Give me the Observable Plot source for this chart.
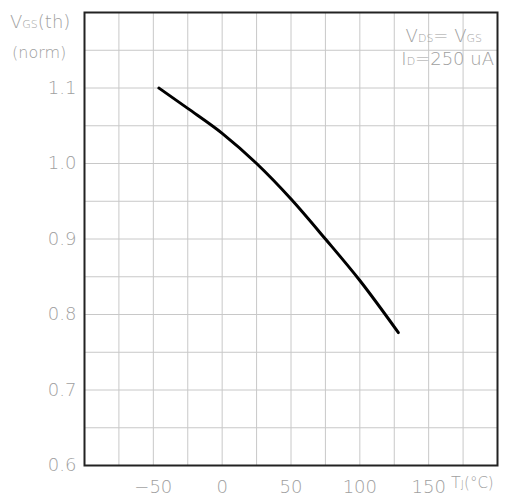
<!DOCTYPE html>
<html><head>
<meta charset="utf-8">
<script src="https://cdn.jsdelivr.net/npm/d3@7"></script>
<script src="https://cdn.jsdelivr.net/npm/@observablehq/plot@0.6"></script>
<style>body{margin:0;background:#fff}</style>
</head><body><div id="chart"></div>
<script>
// Normalized gate threshold voltage vs junction temperature
const tj  = [-46, -25, 0, 25, 50, 75, 100, 128];
const vgs = [1.100, 1.073, 1.040, 1.000, 0.953, 0.900, 0.845, 0.776];
const xTicks = [-50, 0, 50, 100, 150];
const yTicks = [0.6, 0.7, 0.8, 0.9, 1.0, 1.1];
const xGrid = [-75, -50, -25, 0, 25, 50, 75, 100, 125, 150, 175];
const yGrid = [0.65, 0.7, 0.75, 0.8, 0.85, 0.9, 0.95, 1.0, 1.05, 1.1, 1.15];

const data = tj.map((t, i) => ({t, v: vgs[i]}));
const txt = "#a0a0a0";
const font = "DejaVu Sans";

const svg = Plot.plot({
  width: 508, height: 500,
  marginLeft: 84, marginTop: 12, marginRight: 11, marginBottom: 35,
  x: {domain: [-100, 200], label: null},
  y: {domain: [0.6, 1.2], label: null},
  style: {fontFamily: font, fontSize: "18px", color: txt, background: "white"},
  marks: [
    Plot.gridX(xGrid, {stroke: "#c8c8c8", strokeOpacity: 1}),
    Plot.gridY(yGrid, {stroke: "#c8c8c8", strokeOpacity: 1}),
    Plot.axisX(xTicks, {tickSize: 0, tickPadding: 15, fontSize: 18, fill: txt, label: null, fontWeight: 300}),
    Plot.axisY(yTicks, {tickSize: 0, tickPadding: 8, fontSize: 18, fill: txt, label: null, fontWeight: 300, tickFormat: d => d.toFixed(1)}),
    Plot.line(data, {x: "t", y: "v", stroke: "black", strokeWidth: 3, curve: "monotone-x"}),
    Plot.frame({stroke: "#222", strokeWidth: 2})
  ]
});
document.getElementById("chart").appendChild(svg);

const s = d3.select(svg);
function label(x, y, parts, anchor = "start") {
  const t = s.append("text").attr("x", x).attr("y", y).attr("text-anchor", anchor)
    .attr("fill", txt).attr("font-family", font).attr("font-weight", 300);
  parts.forEach(([str, size]) => t.append("tspan").attr("font-size", size).text(str));
}
label(10, 28, [["V", 18], ["GS", 11], ["(th)", 18]]);
label(12, 58, [["(norm)", 16]]);
label(482, 42, [["V", 18], ["DS", 11], ["= V", 18], ["GS", 11]], "end");
label(494, 65, [["I", 18], ["D", 11], ["=250 uA", 18]], "end");
label(451, 488, [["T", 16], ["J", 11], ["(°C)", 15]]);
</script>
</body></html>
